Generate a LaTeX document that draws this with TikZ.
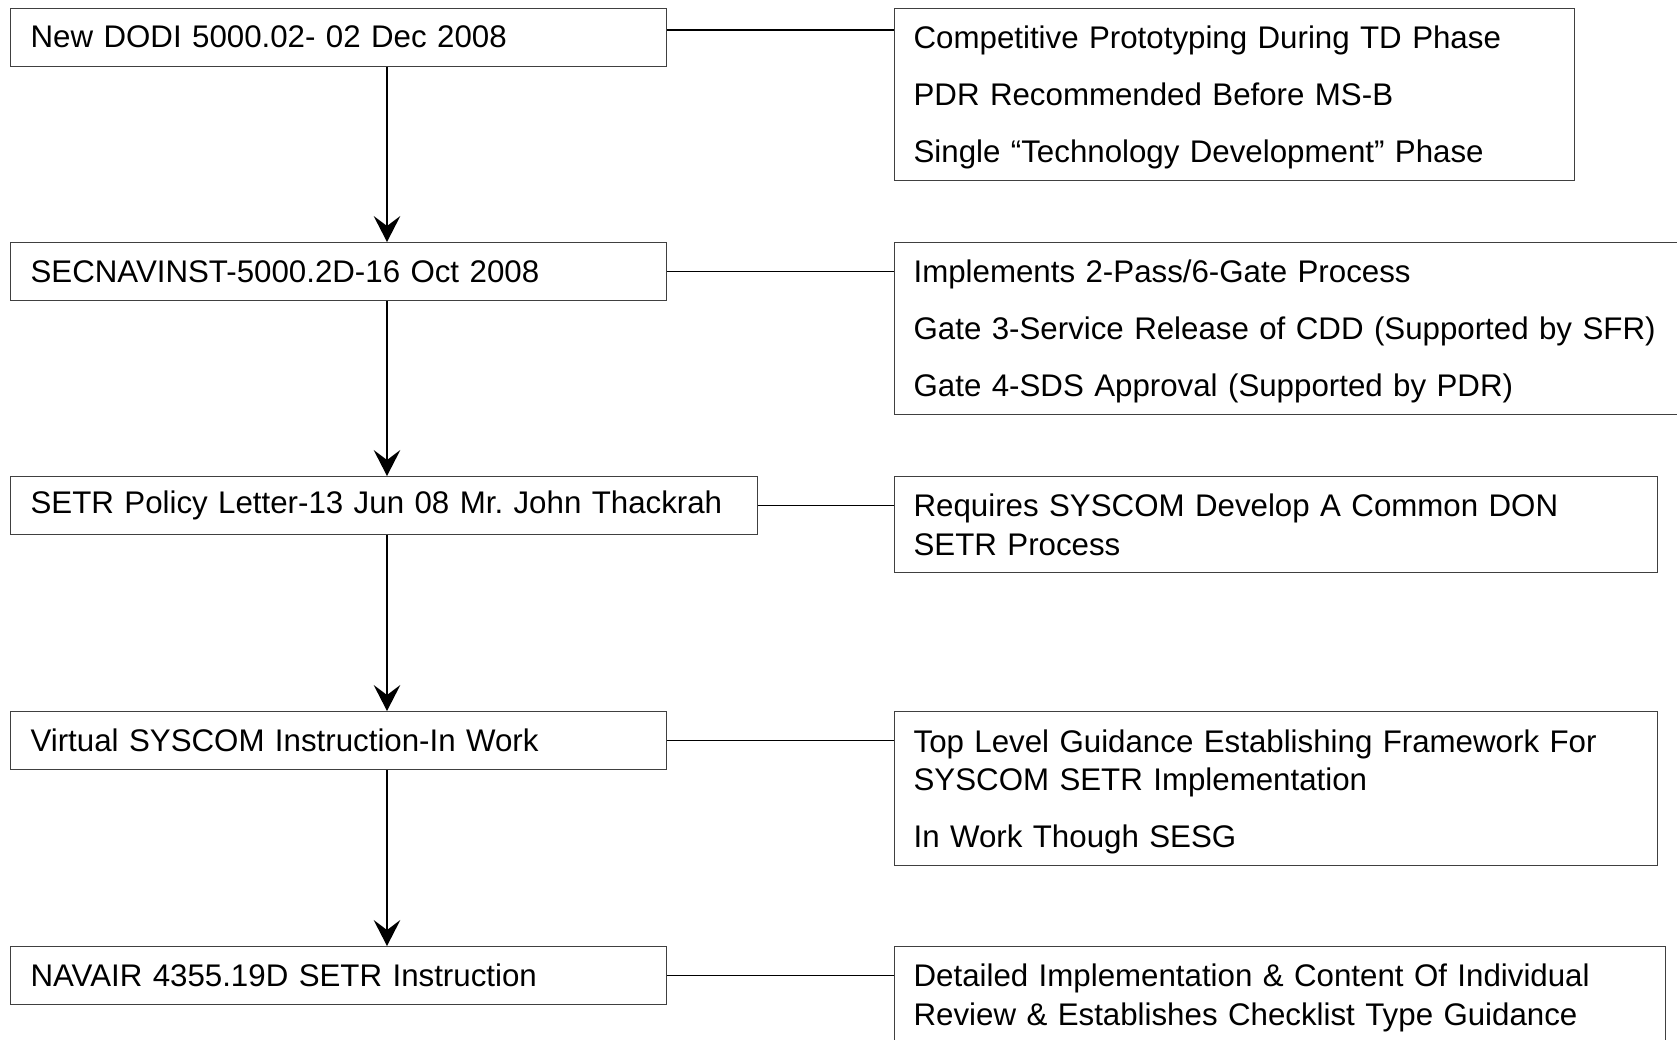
\documentclass[tikz,border=0pt]{standalone}
\usepackage{fontspec}
\setmainfont{Liberation Sans}
\usetikzlibrary{arrows.meta}
\frenchspacing

\begin{document}
\begin{tikzpicture}[x=0.75pt, y=-0.75pt]
    \def\spinex{387}

    % --- DEFINE STYLES ---
    % Style for the instruction boxes on the left
    \tikzstyle{docbox} = [draw=black!75, line width=0.9pt, anchor=north west,
        inner xsep=15pt, inner ysep=0pt, minimum height=43.5pt, align=left,
        text width=462pt, font=\fontsize{23.45pt}{28.9pt}\selectfont]
    % Style for the note boxes on the right
    \tikzstyle{notebox} = [docbox, inner xsep=14.25pt]
    % Style for the links
    \tikzstyle{flow} = [line width=1.2pt, -{Stealth[length=19.5pt, width=20pt, inset=7.5pt]}]
    \tikzstyle{link} = [line width=1.3pt]

    \useasboundingbox (0,0) rectangle (1677,1039);

    % --- INSTRUCTIONS ---
    \node[docbox] (n1) at (10,7.5) {New DODI 5000.02- 02 Dec 2008};
    \node[docbox] (n2) at (10,242) {SECNAVINST-5000.2D-16 Oct 2008};
    \node[docbox, text width=530pt] (n3) at (10,476) {SETR Policy Letter-13 Jun 08 Mr. John Thackrah};
    \node[docbox] (n4) at (10,711) {Virtual SYSCOM Instruction-In Work};
    \node[docbox] (n5) at (10,946) {NAVAIR 4355.19D SETR Instruction};

    % --- NOTES ---
    \node[notebox, text width=481.5pt, minimum height=129pt, text depth=85.5pt] (d1) at (894,7.5)
        {Competitive Prototyping During TD Phase\\[13.85pt]
         PDR Recommended Before MS-B\\[13.85pt]
         Single ``Technology Development'' Phase};
    \node[notebox, text width=586.5pt, minimum height=129pt, text depth=85.5pt] (d2) at (894,242)
        {Implements 2-Pass/6-Gate Process\\[13.85pt]
         Gate 3-Service Release of CDD (Supported by SFR)\\[13.85pt]
         Gate 4-SDS Approval (Supported by PDR)};
    \node[notebox, text width=543.75pt, minimum height=72pt, text depth=28.9pt] (d3) at (894,476)
        {Requires SYSCOM Develop A Common DON\\
         SETR Process};
    \node[notebox, text width=543.75pt, minimum height=115.5pt, text depth=71.65pt] (d4) at (894,711)
        {Top Level Guidance Establishing Framework For\\
         SYSCOM SETR Implementation\\[13.85pt]
         In Work Though SESG};
    \node[notebox, text width=549.75pt, minimum height=72pt, text depth=28.9pt] (d5) at (894,946)
        {Detailed Implementation \& Content Of Individual\\
         Review \& Establishes Checklist Type Guidance};

    % --- FLOW DOWN THE LEFT ---
    \coordinate (spine) at (\spinex,0);
    \foreach \a/\b in {n1/n2, n2/n3, n3/n4, n4/n5} {
        \draw[flow] (\a.south -| spine) -- (\b.north -| spine);
    }

    % --- LINKS TO THE NOTES ---
    \coordinate (c1) at ([yshift=5.25pt]n1.east);
    \draw[link] (c1) -- (c1 -| d1.west);
    \foreach \i in {2,...,5} {
        \draw[link] (n\i.east) -- (n\i.east -| d\i.west);
    }
\end{tikzpicture}
\end{document}
